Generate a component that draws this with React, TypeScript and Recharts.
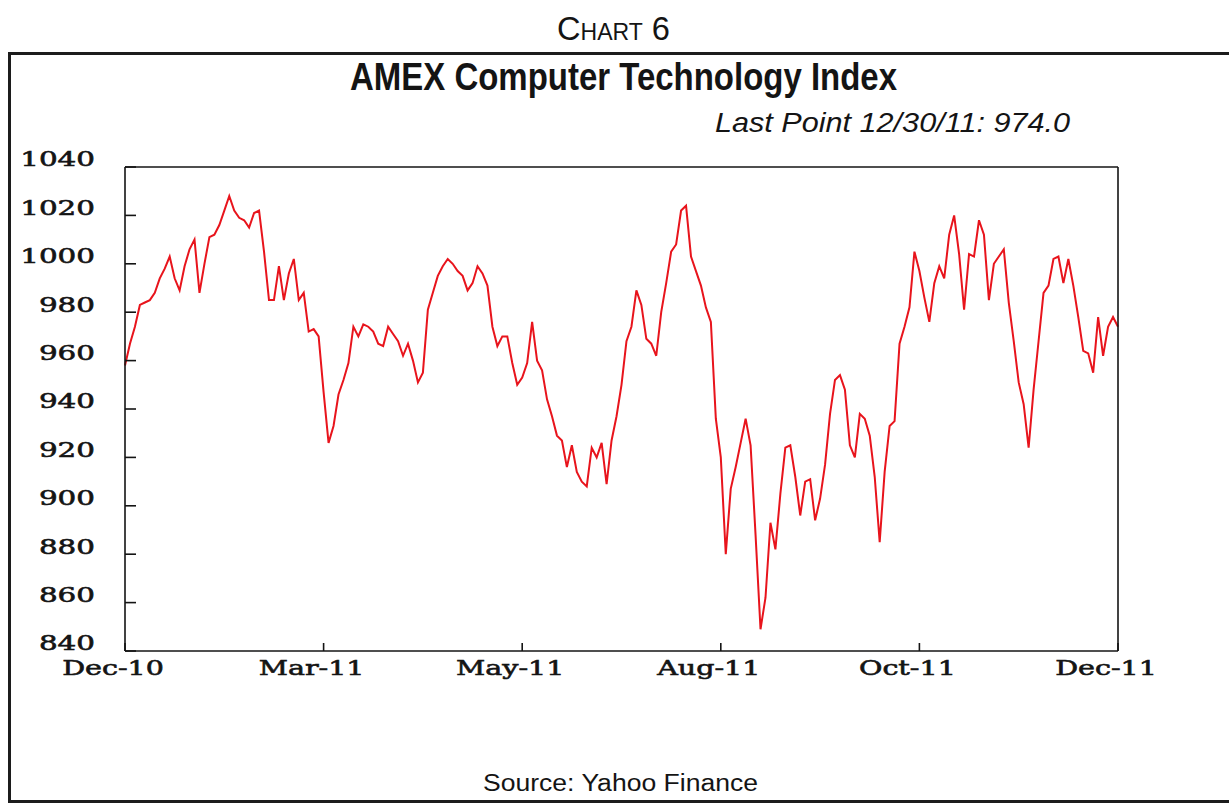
import React from 'react';
import { LineChart, Line, XAxis, YAxis } from 'recharts';

// AMEX Computer Technology Index, trading-day samples Dec-10 .. Dec-11
const values: number[] = [
  958, 967, 974, 983, 984, 985, 988, 994, 998, 1003,
  994, 989, 999, 1006, 1010, 988, 1000, 1011, 1012, 1016,
  1022, 1028, 1022, 1019, 1018, 1015, 1021, 1022, 1005, 985,
  985, 999, 985, 996, 1002, 985, 988, 972, 973, 970,
  947, 926, 933, 946, 952, 959, 974, 970, 975, 974,
  972, 967, 966, 974, 971, 968, 962, 967, 960, 951,
  955, 981, 988, 995, 999, 1002, 1000, 997, 995, 989,
  992, 999, 996, 991, 974, 966, 970, 970, 959, 950,
  953, 959, 976, 960, 956, 944, 937, 929, 927, 916,
  925, 914, 910, 908, 924, 920, 926, 909, 927, 937,
  950, 968, 974, 989, 983, 969, 967, 962, 980, 992,
  1005, 1008, 1022, 1024, 1003, 997, 991, 982, 976, 936,
  920, 880, 907, 916, 926, 936, 925, 888, 849, 862,
  893, 882, 905, 924, 925, 912, 896, 910, 911, 894,
  903, 917, 938, 952, 954, 948, 925, 920, 938, 936,
  929, 912, 885, 914, 933, 935, 967, 974, 982, 1005,
  997, 986, 976, 992, 999, 994, 1012, 1020, 1004, 981,
  1004, 1003, 1018, 1012, 985, 1000, 1003, 1006, 984, 968,
  951, 942, 924, 948, 968, 988, 991, 1002, 1003, 992,
  1002, 991, 978, 964, 963, 955, 978, 962, 974, 978,
  974,
];

const tickIndex: number[] = [0, 40, 80, 120, 160, 200];
const tickLabels: string[] = ['Dec-10', 'Mar-11', 'May-11', 'Aug-11', 'Oct-11', 'Dec-11'];
const yTicks: number[] = [840, 860, 880, 900, 920, 940, 960, 980, 1000, 1020, 1040];

const data = values.map((v, i) => ({ i, v }));

const SERIF = '"DejaVu Serif", "Liberation Serif", serif';
const NARROW = '"Liberation Sans Narrow", "Liberation Sans", Arial, sans-serif';
const INK = '#141414';

const labelStyle = {
  fontFamily: SERIF,
  fontSize: 21,
  fill: INK,
  stroke: INK,
  strokeWidth: 0.6,
};

const YTickLeft = (props: any) => {
  const { x, y, payload } = props;
  return (
    <text
      transform={`translate(${x},${y - 8}) scale(1.4,1)`}
      textAnchor="end"
      dominantBaseline="central"
      {...labelStyle}
    >
      {payload.value}
    </text>
  );
};

const YTickRight = (props: any) => {
  const { x, y, payload } = props;
  return (
    <text
      transform={`translate(${x},${y - 8}) scale(1.4,1)`}
      textAnchor="start"
      dominantBaseline="central"
      {...labelStyle}
    >
      {payload.value}
    </text>
  );
};

const XTick = (props: any) => {
  const { x, y, payload } = props;
  const k = tickIndex.indexOf(payload.value);
  return (
    <text
      transform={`translate(${x - 12},${y}) scale(1.36,1)`}
      textAnchor="middle"
      dominantBaseline="central"
      {...labelStyle}
    >
      {k >= 0 ? tickLabels[k] : ''}
    </text>
  );
};

export default function App() {
  return (
    <div
      style={{
        position: 'absolute',
        left: 0,
        top: 0,
        width: 1229,
        height: 806,
        overflow: 'hidden',
        background: '#fff',
      }}
    >
      <div
        style={{
          position: 'absolute',
          left: 8,
          top: 52,
          width: 1260,
          height: 751,
          boxSizing: 'border-box',
          border: '3px solid #1c1c1c',
        }}
      />
      <svg
        width={1229}
        height={806}
        style={{ position: 'absolute', left: 0, top: 0, pointerEvents: 'none' }}
      >
        <text x={557} y={40} textLength={113} lengthAdjust="spacingAndGlyphs" fontFamily={NARROW} fill={INK}>
          <tspan fontSize={34}>C</tspan>
          <tspan fontSize={24}>HART</tspan>
          <tspan fontSize={34}> 6</tspan>
        </text>
        <text
          x={350}
          y={90}
          textLength={547}
          lengthAdjust="spacingAndGlyphs"
          fontFamily={NARROW}
          fontWeight="bold"
          fontSize={38}
          fill={INK}
        >
          AMEX Computer Technology Index
        </text>
        <text
          x={715}
          y={132}
          textLength={355}
          lengthAdjust="spacingAndGlyphs"
          fontFamily={NARROW}
          fontStyle="italic"
          fontSize={28}
          fill={INK}
        >
          Last Point 12/30/11: 974.0
        </text>
        <text
          x={483}
          y={791}
          textLength={275}
          lengthAdjust="spacingAndGlyphs"
          fontFamily={NARROW}
          fontSize={23}
          fill={INK}
        >
          Source: Yahoo Finance
        </text>
      </svg>
      <div style={{ position: 'absolute', left: 0, top: 0 }}>
        <LineChart
          width={1229}
          height={806}
          data={data}
          margin={{ top: 166, right: 0, bottom: 125, left: 0 }}
        >
          <XAxis
            xAxisId="top"
            orientation="top"
            type="number"
            dataKey="i"
            domain={[0, 200]}
            height={1}
            tick={false}
            tickLine={false}
            axisLine={{ stroke: INK, strokeWidth: 1.6 }}
          />
          <XAxis
            type="number"
            dataKey="i"
            domain={[0, 200]}
            ticks={tickIndex}
            interval={0}
            height={30}
            tickSize={-8}
            tickMargin={25}
            tick={<XTick />}
            tickLine={{ stroke: INK, strokeWidth: 1.6 }}
            axisLine={{ stroke: INK, strokeWidth: 1.6 }}
          />
          <YAxis
            yAxisId="left"
            domain={[840, 1040]}
            ticks={yTicks}
            interval={0}
            width={125}
            tickSize={-11}
            tickMargin={41}
            tick={<YTickLeft />}
            tickLine={{ stroke: INK, strokeWidth: 1.6 }}
            axisLine={{ stroke: INK, strokeWidth: 1.6 }}
          />
          <YAxis
            yAxisId="right"
            orientation="right"
            domain={[840, 1040]}
            ticks={yTicks}
            interval={0}
            width={111}
            tickSize={-11}
            tickMargin={24}
            tick={<YTickRight />}
            tickLine={{ stroke: INK, strokeWidth: 1.6 }}
            axisLine={{ stroke: INK, strokeWidth: 1.6 }}
          />
          <Line
            yAxisId="left"
            type="linear"
            dataKey="v"
            stroke="#e8141c"
            strokeWidth={2}
            dot={false}
            isAnimationActive={false}
          />
        </LineChart>
      </div>
    </div>
  );
}
